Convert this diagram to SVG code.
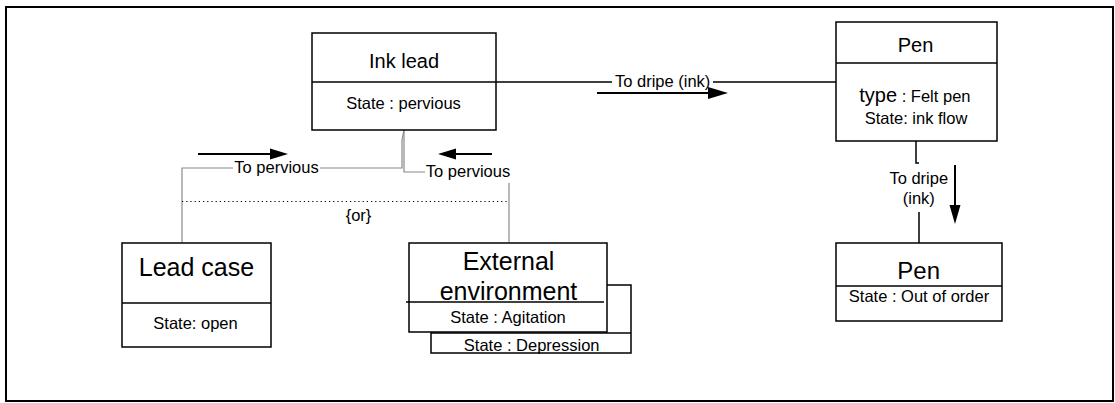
<svg xmlns="http://www.w3.org/2000/svg" width="1115" height="403" viewBox="0 0 1115 403">
<style>
text{font-family:"Liberation Sans",Arial,sans-serif;fill:#000}
.s{font-size:16.5px}
.box{fill:#fff;stroke:#000;stroke-width:1.5}
.ln{stroke:#000;stroke-width:1.5;fill:none}
.g{stroke:#8a8a8a;stroke-width:1.2;fill:none}
.d{stroke:#000;stroke-width:1.2;stroke-dasharray:1.2,3;fill:none}
.ar{stroke:#000;stroke-width:2;fill:none}
</style>
<rect x="6" y="7" width="1107" height="394" fill="#fff" stroke="#000" stroke-width="2"/>
<g id="connectors">
<path class="ln" d="M496,82H612M713,82H836"/>
<text class="s" x="662.7" y="87" text-anchor="middle">To dripe (ink)</text>
<path class="ar" d="M597,93H710"/>
<polygon points="708,87 728,93 708,99"/>
<path class="g" d="M182,243V168H233M320,168H402V140L404,130"/>
<text class="s" x="276.5" y="173" text-anchor="middle">To pervious</text>
<path class="g" d="M404,130V172H425M509,183V243"/>
<text class="s" x="468" y="177" text-anchor="middle">To pervious</text>
<path class="ar" d="M198,154H272"/>
<polygon points="270,148.5 288,154 270,159.5"/>
<path class="ar" d="M492,154H455"/>
<polygon points="456,148.5 438,154 456,159.5"/>
<path class="d" d="M182,201.5H509"/>
<text class="s" x="358.5" y="221" text-anchor="middle">{or}</text>
<path class="ln" d="M916,141V163H919M919,212V243"/>
<text class="s" x="918.8" y="184" text-anchor="middle">To dripe</text>
<text class="s" x="918.8" y="204" text-anchor="middle">(ink)</text>
<path class="ar" d="M955,165V207"/>
<polygon points="949.5,205 955,224 960.5,205"/>
</g>
<g id="ink-lead">
<rect class="box" x="312" y="33" width="184" height="97"/>
<path class="ln" d="M312,82H496"/>
<text x="404" y="68" font-size="20" text-anchor="middle">Ink lead</text>
<text class="s" x="403.5" y="109" text-anchor="middle">State : pervious</text>
</g>
<g id="lead-case">
<rect class="box" x="122" y="243" width="149" height="104"/>
<path class="ln" d="M122,303H271"/>
<text x="196.5" y="276" font-size="25" text-anchor="middle">Lead case</text>
<text class="s" x="195.5" y="329" text-anchor="middle">State: open</text>
</g>
<g id="external-environment">
<rect class="box" x="431" y="285" width="200" height="68"/>
<path class="ln" d="M431,333H631"/>
<text class="s" x="531.7" y="351" text-anchor="middle">State : Depression</text>
<rect class="box" x="409" y="243" width="198" height="89"/>
<path class="ln" d="M406,302H604"/>
<text x="508.5" y="270" font-size="25" text-anchor="middle">External</text>
<text x="508.5" y="300" font-size="25" text-anchor="middle">environment</text>
<text class="s" x="508" y="323" text-anchor="middle">State : Agitation</text>
</g>
<g id="pen-top">
<rect class="box" x="836" y="22" width="161" height="119"/>
<path class="ln" d="M836,63H997"/>
<text x="915.5" y="52" font-size="20" text-anchor="middle">Pen</text>
<text x="859.3" y="102"><tspan font-size="20">type</tspan><tspan class="s"> : Felt pen</tspan></text>
<text class="s" x="916" y="124" text-anchor="middle">State: ink flow</text>
</g>
<g id="pen-bottom">
<rect class="box" x="836" y="243" width="166" height="78"/>
<path class="ln" d="M836,286H1002"/>
<text x="918.7" y="279" font-size="24" text-anchor="middle">Pen</text>
<text class="s" x="919" y="302" text-anchor="middle">State : Out of order</text>
</g>
</svg>
